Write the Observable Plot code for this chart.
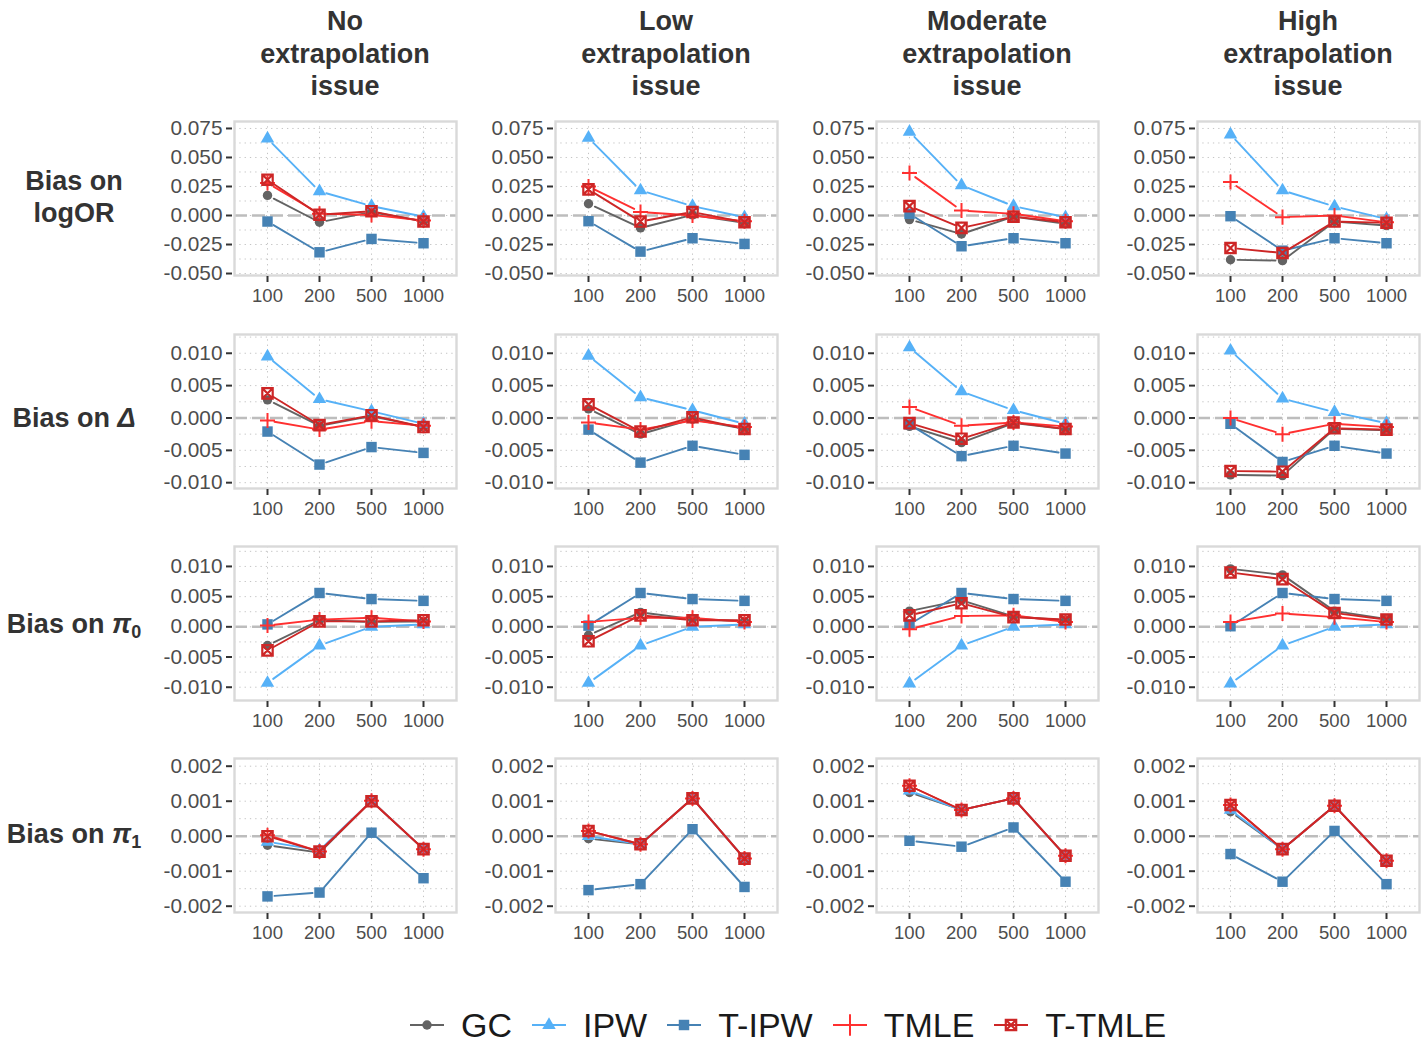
<!DOCTYPE html>
<html>
<head>
<meta charset="utf-8">
<script src="https://cdn.jsdelivr.net/npm/d3@7"></script>
<script src="https://cdn.jsdelivr.net/npm/@observablehq/plot@0.6"></script>
<style>
  body { margin: 0; background: #fff; font-family: "Liberation Sans", Arial, sans-serif; }
  #fig { position: relative; width: 1428px; height: 1045px; overflow: hidden; background: #fff; }
  .strip { position: absolute; text-align: center; font-weight: bold; font-size: 27px; line-height: 32.5px; color: #333; white-space: pre; }
  .rowlab { position: absolute; text-align: center; font-weight: bold; font-size: 27px; line-height: 32px; color: #333; white-space: pre; width: 148px; }
  .rowlab sub { font-size: 18px; vertical-align: -5px; line-height: 0; }
  .panel { position: absolute; }
  .legend { position: absolute; left: 409px; top: 1009px; height: 32px; display: flex; align-items: center; font-size: 34px; line-height: 30px; color: #1a1a1a; }
  .legend .item { display: flex; align-items: center; margin-right: 19px; height: 32px; }
  .legend .item span { display: block; height: 30px; line-height: 30px; }
  .legend .item svg { margin-right: 16px; }
</style>
</head>
<body>
<div id="fig"></div>
<script>
// ---- categories ----
const sampleSizes = ["100", "200", "500", "1000"];
const scenarios = ["No\nextrapolation\nissue", "Low\nextrapolation\nissue", "Moderate\nextrapolation\nissue", "High\nextrapolation\nissue"];
const methods = ["GC", "IPW", "T-IPW", "TMLE", "T-TMLE"];

// ---- bias values: one row per scenario, one value per sample size ----
const logOR_GC = [[0.0173, -0.0058, 0.0030, -0.0050], [0.0101, -0.0107, 0.0005, -0.0063], [-0.0035, -0.0159, -0.0010, -0.0070], [-0.0381, -0.0389, -0.0052, -0.0087]];
const logOR_IPW = [[0.0663, 0.0208, 0.0081, -0.0010], [0.0669, 0.0216, 0.0081, -0.0015], [0.0721, 0.0260, 0.0081, -0.0015], [0.0698, 0.0216, 0.0078, -0.0030]];
const logOR_TIPW = [[-0.0052, -0.0317, -0.0202, -0.0239], [-0.0049, -0.0311, -0.0196, -0.0245], [0.0015, -0.0265, -0.0196, -0.0239], [-0.0006, -0.0303, -0.0196, -0.0239]];
const logOR_TMLE = [[0.0280, 0.0015, 0.0005, -0.0043], [0.0250, 0.0030, 0.0000, -0.0050], [0.0366, 0.0043, 0.0015, -0.0050], [0.0288, -0.0014, 0.0000, -0.0058]];
const logOR_TTMLE = [[0.0308, 0.0006, 0.0037, -0.0052], [0.0225, -0.0052, 0.0030, -0.0058], [0.0081, -0.0107, -0.0010, -0.0058], [-0.0280, -0.0323, -0.0052, -0.0063]];

const delta_GC = [[0.0028, -0.0012, 0.0003, -0.0014], [0.0014, -0.0025, -0.0002, -0.0017], [-0.0013, -0.0038, -0.0008, -0.0017], [-0.0088, -0.0089, -0.0017, -0.0019]];
const delta_IPW = [[0.0095, 0.0029, 0.00105, -0.0009], [0.0096, 0.0032, 0.0012, -0.0009], [0.0109, 0.0041, 0.0012, -0.0009], [0.0104, 0.0030, 0.0009, -0.0008]];
const delta_TIPW = [[-0.0021, -0.0072, -0.0045, -0.0054], [-0.0018, -0.0069, -0.0043, -0.0057], [-0.0010, -0.0059, -0.0043, -0.0055], [-0.0009, -0.0068, -0.0043, -0.0055]];
const delta_TMLE = [[-0.0004, -0.0018, -0.0005, -0.0012], [-0.0007, -0.0018, -0.0004, -0.0014], [0.0017, -0.0012, -0.0007, -0.0013], [0.0000, -0.0025, -0.0009, -0.0014]];
const delta_TTMLE = [[0.0038, -0.0011, 0.0004, -0.0014], [0.0021, -0.0021, 0.0001, -0.0017], [-0.0008, -0.0032, -0.0007, -0.0017], [-0.0082, -0.0083, -0.0016, -0.0018]];

const pi0_GC = [[-0.0031, 0.0011, 0.0008, 0.0009], [-0.0014, 0.0024, 0.0013, 0.0009], [0.0026, 0.0044, 0.0017, 0.0011], [0.0096, 0.0086, 0.0026, 0.0013]];
const pi0_IPW = [[-0.0093, -0.0031, 0.0000, 0.0004], [-0.0093, -0.0031, 0.0000, 0.0004], [-0.0094, -0.0031, 0.0000, 0.0004], [-0.0094, -0.0031, 0.0000, 0.0004]];
const pi0_TIPW = [[0.0004, 0.0056, 0.0046, 0.0043], [0.0002, 0.0056, 0.0046, 0.0043], [0.0004, 0.0056, 0.0046, 0.0043], [0.0001, 0.0056, 0.0046, 0.0043]];
const pi0_TMLE = [[0.0002, 0.0012, 0.0015, 0.0009], [0.0008, 0.0015, 0.0015, 0.0008], [-0.0004, 0.0018, 0.0019, 0.0008], [0.0008, 0.0022, 0.0016, 0.0008]];
const pi0_TTMLE = [[-0.0039, 0.0009, 0.0009, 0.0011], [-0.0024, 0.0019, 0.0011, 0.0011], [0.0019, 0.0039, 0.0016, 0.0012], [0.0090, 0.0079, 0.0023, 0.0012]];

const pi1_GC = [[-0.00026, -0.00047, 0.00101, -0.00037], [-0.00007, -0.00023, 0.00108, -0.00064], [0.00125, 0.00075, 0.00108, -0.00056], [0.00070, -0.00037, 0.00087, -0.00070]];
const pi1_IPW = [[-0.00016, -0.00040, 0.00101, -0.00037], [0.00000, -0.00023, 0.00108, -0.00064], [0.00130, 0.00075, 0.00108, -0.00056], [0.00075, -0.00037, 0.00087, -0.00070]];
const pi1_TIPW = [[-0.00172, -0.00161, 0.00010, -0.00120], [-0.00154, -0.00137, 0.00020, -0.00145], [-0.00013, -0.00030, 0.00025, -0.00130], [-0.00051, -0.00130, 0.00015, -0.00137]];
const pi1_TMLE = [[0.00003, -0.00044, 0.00101, -0.00037], [0.00015, -0.00023, 0.00108, -0.00064], [0.00144, 0.00075, 0.00108, -0.00056], [0.00089, -0.00037, 0.00087, -0.00070]];
const pi1_TTMLE = [[0.00000, -0.00044, 0.00100, -0.00037], [0.00015, -0.00023, 0.00108, -0.00064], [0.00144, 0.00075, 0.00108, -0.00056], [0.00089, -0.00037, 0.00087, -0.00070]];

// ---- y tick labels for each row ----
const logORTicks = [-0.05, -0.025, 0, 0.025, 0.05, 0.075];
const deltaTicks = [-0.01, -0.005, 0, 0.005, 0.01];
const pi0Ticks = [-0.01, -0.005, 0, 0.005, 0.01];
const pi1Ticks = [-0.002, -0.001, 0, 0.001, 0.002];

// ---- assemble rows ----
const rowValues = [
  [logOR_GC, logOR_IPW, logOR_TIPW, logOR_TMLE, logOR_TTMLE],
  [delta_GC, delta_IPW, delta_TIPW, delta_TMLE, delta_TTMLE],
  [pi0_GC, pi0_IPW, pi0_TIPW, pi0_TMLE, pi0_TTMLE],
  [pi1_GC, pi1_IPW, pi1_TIPW, pi1_TMLE, pi1_TTMLE]
];
const rowTicks = [logORTicks, deltaTicks, pi0Ticks, pi1Ticks];
const rowDomains = [[-0.0517, 0.081], [-0.0109, 0.0129], [-0.0122, 0.0133], [-0.00218, 0.00222]];
const rowLabelsHtml = [
  "Bias on\nlogOR",
  "Bias on <i>Δ</i>",
  "Bias on <i>π</i><sub>0</sub>",
  "Bias on <i>π</i><sub>1</sub>"
];

// square with a cross inside (outlined)
const squareCross = {
  draw(ctx, size) {
    const h = Math.sqrt(size / Math.PI);
    ctx.moveTo(-h, -h); ctx.lineTo(h, -h); ctx.lineTo(h, h); ctx.lineTo(-h, h); ctx.closePath();
    ctx.moveTo(-h, -h); ctx.lineTo(h, h);
    ctx.moveTo(h, -h); ctx.lineTo(-h, h);
  }
};

const styles = {
  "GC": {color: "#636363", symbol: "circle", r: 4.7, fill: true},
  "IPW": {color: "#56B1F7", symbol: "triangle", r: 5.0, fill: true},
  "T-IPW": {color: "#4682B4", symbol: "square", r: 5.9, fill: true},
  "TMLE": {color: "#FF3030", symbol: "plus", r: 4.9, fill: false, sw: 2},
  "T-TMLE": {color: "#CD2626", symbol: squareCross, r: 5.2, fill: false, sw: 2.2}
};

// layout of panel plotting areas
const colLeft = [234, 555, 876, 1197];
const rowTop = [121, 334, 546, 758];
const panelW = 222, panelH = 154;
const ML = 90, MR = 4, MT = 4, MB = 40;

const fig = document.getElementById("fig");

function minorTicks(ticks, domain) {
  const step = ticks[1] - ticks[0];
  const out = [];
  for (let v = ticks[0] - step / 2; v <= ticks[ticks.length - 1] + step; v += step) {
    if (v > domain[0] && v < domain[1]) out.push(+v.toFixed(6));
  }
  return out;
}

function panel(r, c) {
  const ticks = rowTicks[r];
  const domain = rowDomains[r];
  const grid = {stroke: "#c4c4c4", strokeOpacity: 1, strokeWidth: 1, strokeDasharray: "1.3,4"};
  const marks = [
    Plot.gridY(minorTicks(ticks, domain), grid),
    Plot.gridY(ticks, grid),
    Plot.gridX(sampleSizes, grid),
    Plot.ruleY([0], {stroke: "#bdbdbd", strokeWidth: 2.6, strokeDasharray: "13,5"})
  ];
  // connecting lines, trimmed short of each point
  methods.forEach((m, k) => {
    const v = rowValues[r][k][c];
    const segs = d3.range(sampleSizes.length - 1).map(i => ({
      x1: sampleSizes[i], y1: v[i], x2: sampleSizes[i + 1], y2: v[i + 1]
    }));
    marks.push(Plot.arrow(segs, {
      x1: "x1", y1: "y1", x2: "x2", y2: "y2",
      stroke: styles[m].color, strokeWidth: 1.9, headLength: 0, bend: 0, inset: 7
    }));
  });
  // points
  methods.forEach((m, k) => {
    const v = rowValues[r][k][c];
    const pts = sampleSizes.map((s, i) => ({n: s, bias: v[i]}));
    const st = styles[m];
    marks.push(Plot.dot(pts, st.fill
      ? {x: "n", y: "bias", symbol: st.symbol, r: st.r, fill: st.color, stroke: "none"}
      : {x: "n", y: "bias", symbol: st.symbol, r: st.r, fill: "none", stroke: st.color, strokeWidth: st.sw}));
  });
  marks.push(Plot.frame({stroke: "#d9d9d9", strokeWidth: 2.4}));
  marks.push(Plot.axisY(ticks, {
    tickFormat: d => d.toFixed(3), tickSize: 6, tickPadding: 4, dx: -2,
    stroke: "#333", strokeWidth: 2, fill: "#4d4d4d", fontSize: 20.8, label: null
  }));
  marks.push(Plot.axisX(sampleSizes, {
    tickSize: 6, tickPadding: 6, dy: 1, stroke: "#333", strokeWidth: 2, fill: "#4d4d4d", fontSize: 18.5, label: null
  }));
  const svg = Plot.plot({
    width: panelW + ML + MR,
    height: panelH + MT + MB,
    marginLeft: ML, marginRight: MR, marginTop: MT, marginBottom: MB,
    x: {type: "point", domain: sampleSizes, padding: 0.6},
    y: {domain},
    style: {fontFamily: "'Liberation Sans', Arial, sans-serif", fontSize: "18px", background: "transparent", overflow: "visible"},
    marks
  });
  const wrap = document.createElement("div");
  wrap.className = "panel";
  wrap.style.left = (colLeft[c] - ML) + "px";
  wrap.style.top = (rowTop[r] - MT) + "px";
  wrap.appendChild(svg);
  fig.appendChild(wrap);
}

for (let r = 0; r < 4; r++) for (let c = 0; c < 4; c++) panel(r, c);

// column strips
scenarios.forEach((s, c) => {
  const d = document.createElement("div");
  d.className = "strip";
  d.style.left = (colLeft[c] - 20) + "px";
  d.style.width = (panelW + 40) + "px";
  d.style.top = "5px";
  d.textContent = s;
  fig.appendChild(d);
});

// row labels
const rowLabelTop = [165, 402, 608, 818];
rowLabelsHtml.forEach((h, r) => {
  const d = document.createElement("div");
  d.className = "rowlab";
  d.style.left = "0px";
  d.style.top = rowLabelTop[r] + "px";
  d.innerHTML = h;
  fig.appendChild(d);
});

// legend
const legend = document.createElement("div");
legend.className = "legend";
methods.forEach(m => {
  const st = styles[m];
  const item = document.createElement("div");
  item.className = "item";
  const svg = d3.create("svg").attr("width", 36).attr("height", 24);
  svg.append("line").attr("x1", 1).attr("x2", 35).attr("y1", 12).attr("y2", 12)
    .attr("stroke", st.color).attr("stroke-width", 1.9);
  const symType = st.symbol === "circle" ? d3.symbolCircle
    : st.symbol === "triangle" ? d3.symbolTriangle
    : st.symbol === "square" ? d3.symbolSquare
    : st.symbol === "plus" ? d3.symbolPlus : st.symbol;
  const size = st.symbol === "plus" ? 150 : st.r * st.r * Math.PI;
  const p = svg.append("path").attr("transform", "translate(18,12)")
    .attr("d", d3.symbol(symType, size)());
  if (st.fill) p.attr("fill", st.color);
  else p.attr("fill", "none").attr("stroke", st.color).attr("stroke-width", st.sw);
  item.appendChild(svg.node());
  const t = document.createElement("span");
  t.textContent = m;
  item.appendChild(t);
  legend.appendChild(item);
});
fig.appendChild(legend);
</script>
</body>
</html>
